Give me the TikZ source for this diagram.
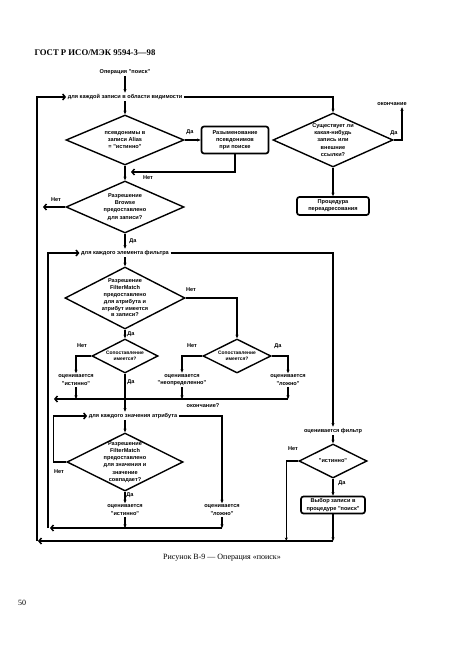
\documentclass[tikz,border=0pt]{standalone}
\usepackage{fontspec}
\setmainfont{Liberation Serif}
\newfontfamily\flowfont{Liberation Sans}
\usetikzlibrary{shapes.geometric,arrows.meta}

\begin{document}
\begin{tikzpicture}[x=1pt,y=-1pt]
\tikzstyle{txt}=[font=\flowfont\bfseries\fontsize{5.6}{7.2}\selectfont, align=center, inner sep=1.5pt]
\tikzstyle{small}=[font=\flowfont\bfseries\fontsize{4.9}{6.6}\selectfont, align=center, inner sep=1pt]
\tikzstyle{ask}=[diamond, draw, line width=1.4pt, inner sep=0pt]
\tikzstyle{box}=[rectangle, rounded corners=2.5pt, draw, line width=1.7pt, inner sep=1pt, font=\flowfont\bfseries\fontsize{5.6}{7.2}\selectfont, align=center]
\tikzstyle{connect}=[-{Stealth[length=3.5pt,width=3pt]}, line width=1.5pt]
\tikzstyle{loop}=[-{Straight Barb[length=2.5pt,width=6pt]}, line width=1.5pt]
\tikzstyle{yesno}=[font=\flowfont\bfseries\fontsize{5.6}{6}\selectfont, inner sep=0pt]

\useasboundingbox (0,0) rectangle (459,661);

% page
\node[font=\bfseries\fontsize{8.7}{9}\selectfont, anchor=west] (head) at (31,53) {ГОСТ Р ИСО/МЭК 9594-3—98};
\node[font=\fontsize{8}{9}\selectfont] (caption) at (222,558) {Рисунок В-9 — Операция «поиск»};
\node[font=\fontsize{8}{9}\selectfont] (page) at (22,603) {50};

% entries
\node[txt] (op) at (125,72) {Операция "поиск"};
\node[txt] (scope) at (125,97) {для каждой записи в области видимости};
\node[ask, minimum width=118, minimum height=50] (alias) at (125,140) {};
\node[txt] (alias-q) at (alias) {псевдонимы в\\записи Alias\\= "истинно"};
\node[box, minimum width=67, minimum height=27] (deref) at (235,140) {Разыменование\\псевдонимов\\при поиске};
\node[ask, minimum width=118, minimum height=52] (browse) at (125,207) {};
\node[txt] (browse-q) at (browse) {Разрешение\\Browse\\предоставлено\\для записи?};
\node[ask, minimum width=120, minimum height=54] (exists) at (333,140) {};
\node[txt] (exists-q) at (exists) {Существует ли\\какая-нибудь\\запись или\\внешние\\ссылки?};
\node[txt] (done) at (392,104) {окончание};
\node[box, minimum width=72, minimum height=18] (proc) at (333,206) {Процедура\\переадресования};

% filter items
\node[txt] (filter) at (125,253) {для каждого элемента фильтра};
\node[ask, minimum width=120, minimum height=62] (match) at (125,298) {};
\node[txt, font=\flowfont\bfseries\fontsize{5.6}{6.8}\selectfont] (match-q) at (match) {Разрешение\\FilterMatch\\предоставлено\\для атрибута и\\атрибут имеется\\в записи?};
\node[ask, minimum width=66, minimum height=34] (present) at (125,356) {};
\node[small] (present-q) at (present) {Сопоставление\\имеется?};
\node[ask, minimum width=68, minimum height=34] (present2) at (237,356) {};
\node[small] (present2-q) at (present2) {Сопоставление\\имеется?};
\node[txt] (evtrue1) at (76,380) {оценивается\\"истинно"};
\node[txt] (evundef) at (182,380) {оценивается\\"неопределенно"};
\node[txt] (evfalse1) at (288,380) {оценивается\\"ложно"};

% values
\node[txt] (values) at (133,416) {для каждого значения атрибута};
\node[txt] (endval) at (203,406) {окончание?};
\node[ask, minimum width=116, minimum height=58] (vmatch) at (125,462) {};
\node[txt] (vmatch-q) at (vmatch) {Разрешение\\FilterMatch\\предоставлено\\для значения и\\значение\\совпадает?};
\node[txt] (evtrue2) at (125,510) {оценивается\\"истинно"};
\node[txt] (evfalse2) at (222,510) {оценивается\\"ложно"};

% filter result
\node[txt] (evfilter) at (333,431) {оценивается фильтр};
\node[ask, minimum width=68, minimum height=34] (istrue) at (333,461) {};
\node[txt] (istrue-q) at (istrue) {"истинно"};
\node[box, minimum width=64, minimum height=17] (select) at (333,505) {Выбор записи в\\процедуре "поиск"};

\coordinate (join) at (125,172);
\coordinate (otop) at (37,97);
\coordinate (obot) at (37,541);
\coordinate (fmid) at (48,399);
\coordinate (fbot) at (48,528);

% yes / no
\node[yesno] (alias-yes) at (190,132) {Да};
\node[yesno] (alias-no) at (148,178) {Нет};
\node[yesno] (browse-no) at (56,200) {Нет};
\node[yesno] (browse-yes) at (133,241) {Да};
\node[yesno] (exists-yes) at (394,133) {Да};
\node[yesno] (match-no) at (191,290) {Нет};
\node[yesno] (match-yes) at (131,334) {Да};
\node[yesno] (present-no) at (82,346) {Нет};
\node[yesno] (present-yes) at (131,382) {Да};
\node[yesno] (present2-no) at (192,346) {Нет};
\node[yesno] (present2-yes) at (278,346) {Да};
\node[yesno] (vmatch-no) at (59,472) {Нет};
\node[yesno] (vmatch-yes) at (130,495) {Да};
\node[yesno] (istrue-no) at (293,449) {Нет};
\node[yesno] (istrue-yes) at (342,483) {Да};

% connectors
\draw[connect] (op) -- (scope);
\draw[connect] (scope) -- (alias);
\draw[connect] (alias) -- (deref);
\draw[loop, shorten >=6pt] (deref.south) |- (join);
\draw[connect] (alias) -- (browse);
\draw[loop, shorten >=6pt] (browse.west) -- (browse.west -| otop);
\draw[connect] (browse) -- (filter);
\draw[connect] (scope.east) -| (exists.north);
\draw[connect] (exists.east) -| ([xshift=10pt]done.south);
\draw[connect] (exists) -- (proc);

\draw[connect] (filter) -- (match);
\draw[connect] (filter.east) -| (evfilter.north);
\draw[connect] (match.east) -| (present2.north);
\draw[connect] (match) -- (present);
\draw[connect] (present.west) -| (evtrue1.north);
\draw[connect] (present2.west) -| (evundef.north);
\draw[connect] (present2.east) -| (evfalse1.north);
\draw[connect] (present.south) -- (present.south |- values.north);
\draw[connect] (evtrue1.south) -- (evtrue1.south |- fmid);
\draw[connect] (evundef.south) -- (evundef.south |- fmid);
\draw[connect] (evfalse1.south) -- (evfalse1.south |- fmid);
\draw[loop, shorten >=6pt] (evfalse1.south |- fmid) -- (fmid);

\draw[connect] (values.east) -| (evfalse2.north);
\draw[connect] (vmatch.north |- values.south) -- (vmatch.north);
\draw[loop] (vmatch.west) -- ++(-13,0) |- (values.west);
\draw[connect] (vmatch) -- (evtrue2);
\draw[connect] (evtrue2.south) -- (evtrue2.south |- fbot);
\draw[connect] (evfalse2.south) -- (evfalse2.south |- fbot);
\draw[loop, shorten >=2pt] (evfalse2.south |- fbot) -- (fbot);
\draw[loop] (fbot) |- (filter.west);

\draw[connect] (evfilter) -- (istrue);
\draw[connect] (istrue.west) -| ([xshift=-12pt]istrue.west |- obot);
\draw[connect] (istrue) -- (select);
\draw[connect] (select.south) -- (select.south |- obot);
\draw[loop, shorten >=1pt] (select.south |- obot) -- (obot);
\draw[loop] (obot) |- (scope.west);
\end{tikzpicture}
\end{document}
